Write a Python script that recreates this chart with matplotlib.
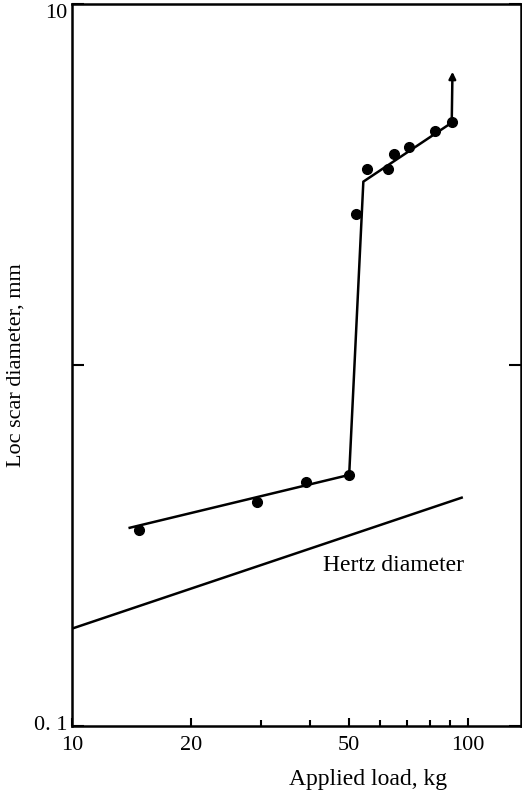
import matplotlib
matplotlib.use("Agg")
import matplotlib.pyplot as plt
from matplotlib.ticker import FixedLocator, NullFormatter

plt.rcParams['font.family'] = ['Liberation Serif', 'DejaVu Serif']

# Measured points
load_low = [14.8, 29.4, 39.0, 50.1]
scar_low = [0.349, 0.418, 0.475, 0.496]
load_high = [52.0, 55.6, 62.9, 65.1, 70.8, 82.6, 90.9]
scar_high = [2.62, 3.48, 3.49, 3.85, 4.01, 4.46, 4.72]

# Fitted trend line
trend_load = [14.0, 50.1, 54.4, 90.9]
trend_scar = [0.354, 0.496, 3.22, 4.69]
arrow_start = (90.9, 4.69)
arrow_end = (91.3, 6.49)

# Hertz diameter line
hertz_load = [10.0, 96.3]
hertz_scar = [0.186, 0.429]

fig = plt.figure(figsize=(5.22, 7.93), dpi=100)
ax = fig.add_axes([0.1375, 0.0845, 0.8605, 0.9105])
ax.set_xscale('log')
ax.set_yscale('log')
ax.set_xlim(10, 135.9)
ax.set_ylim(0.1, 10)

ax.plot(trend_load, trend_scar, color='black', lw=1.8, solid_joinstyle='round')
ax.annotate('', xy=arrow_end, xytext=arrow_start,
            arrowprops=dict(arrowstyle='-|>', color='black', lw=1.8,
                            mutation_scale=10, shrinkA=0, shrinkB=0))
ax.plot(load_low, scar_low, 'o', color='black', ms=7)
ax.plot(load_high, scar_high, 'o', color='black', ms=7)
ax.plot(hertz_load, hertz_scar, color='black', lw=1.8)

ax.text(43.1, 0.279, 'Hertz diameter', fontsize=17, ha='left', va='center')

for s in ax.spines.values():
    s.set_linewidth(1.8)

# x ticks
ax.xaxis.set_major_locator(FixedLocator([10, 20, 50, 100]))
ax.xaxis.set_minor_locator(FixedLocator([30, 40, 60, 70, 80, 90]))
ax.set_xticklabels(['10', '20', '50', '100'])
ax.xaxis.set_minor_formatter(NullFormatter())
ax.tick_params(axis='x', which='major', direction='in', length=6, width=1.5,
               labelsize=16, pad=7)
ax.tick_params(axis='x', which='minor', direction='in', length=4.5, width=1.5)

# y ticks
ax.yaxis.set_major_locator(FixedLocator([0.1, 1, 10]))
ax.yaxis.set_minor_locator(FixedLocator([]))
ax.set_yticklabels(['0. 1', '', '10'])
ax.tick_params(axis='y', which='major', direction='in', length=8.5, width=1.5,
               labelsize=16, pad=3, right=True)
ylabels = ax.get_yticklabels()
ylabels[2].set_va('top')
ylabels[0].set_va('center')

ax.set_xlabel('Applied load, kg', fontsize=17)
ax.xaxis.set_label_coords(0.66, -0.06)
ax.set_ylabel('Loc scar diameter, mm', fontsize=16)
ax.yaxis.set_label_coords(-0.102, 0.5)

fig.savefig('out.png', dpi=100)
